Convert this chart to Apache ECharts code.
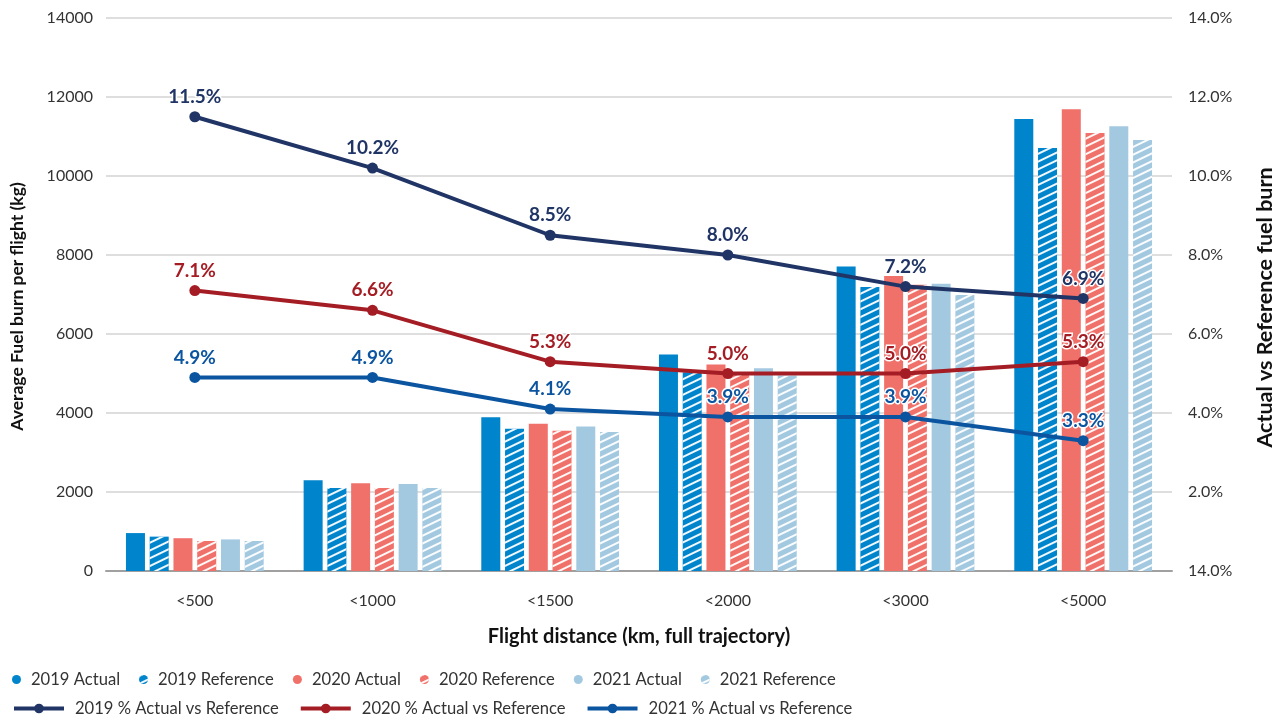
<!DOCTYPE html>
<html><head><meta charset="utf-8">
<script src="https://cdn.jsdelivr.net/npm/echarts@6/dist/echarts.min.js"></script>
<style>html,body{margin:0;padding:0;background:#fff}#c{width:1288px;height:719px}</style>
</head><body><div id="c"></div>
<script>
const categories = ['<500','<1000','<1500','<2000','<3000','<5000'];
const actual2019 = [960, 2300, 3890, 5480, 7710, 11440];
const reference2019 = [870, 2100, 3600, 5030, 7190, 10710];
const actual2020 = [830, 2220, 3730, 5230, 7470, 11690];
const reference2020 = [760, 2100, 3550, 5000, 7250, 11090];
const actual2021 = [800, 2200, 3660, 5130, 7270, 11260];
const reference2021 = [760, 2100, 3520, 4950, 6990, 10910];
const pct2019 = [11.5, 10.2, 8.5, 8.0, 7.2, 6.9];
const pct2020 = [7.1, 6.6, 5.3, 5.0, 5.0, 5.3];
const pct2021 = [4.9, 4.9, 4.1, 3.9, 3.9, 3.3];
const leftTicks = [0, 2000, 4000, 6000, 8000, 10000, 12000, 14000];

const FONT = 'Lato';
const c2019 = '#0084cb', c2020 = '#f0706a', c2021 = '#a3c9e1';
const l2019 = '#203566', l2020 = '#a51d24', l2021 = '#0b55a0';

function hatch() {
  return { symbol: 'rect', symbolSize: 1, color: 'rgba(255,255,255,0.95)',
           dashArrayX: [1, 0], dashArrayY: [2, 5], rotation: -Math.PI / 7 };
}
function bar(name, data, color, ref) {
  const s = { name, type: 'bar', data, barWidth: 19, barGap: '25%', barCategoryGap: '20%',
    itemStyle: { color } };
  if (ref) s.itemStyle.decal = hatch();
  return s;
}
function line(name, data, color) {
  return { name, type: 'line', yAxisIndex: 1, data, symbol: 'circle', symbolSize: 11,
    lineStyle: { color, width: 4 }, itemStyle: { color }, z: 5,
    label: { show: true, position: 'top', distance: 5, color, fontFamily: FONT, fontWeight: 'bold',
      fontSize: 19, textBorderColor: '#fff', textBorderWidth: 3,
      formatter: p => p.value.toFixed(1) + '%' } };
}

const chart = echarts.init(document.getElementById('c'));
chart.setOption({
  animation: false,
  textStyle: { fontFamily: FONT },
  grid: { left: 103, right: 116, top: 18, bottom: 148 },
  legend: [
    { left: 7, top: 666, itemWidth: 9, itemHeight: 9, itemGap: 19, icon: 'circle',
      textStyle: { fontSize: 16.6, color: '#333', fontFamily: FONT, padding: [0, 0, 0, 5] },
      data: ['2019 Actual','2019 Reference','2020 Actual','2020 Reference','2021 Actual','2021 Reference'] },
    { left: 7, top: 695, itemWidth: 50, itemHeight: 12, itemGap: 20,
      lineStyle: { width: 4 },
      textStyle: { fontSize: 16.6, color: '#333', fontFamily: FONT, padding: [0, 0, 0, 6] },
      data: ['2019 % Actual vs Reference','2020 % Actual vs Reference','2021 % Actual vs Reference'] }
  ],
  xAxis: {
    type: 'category', data: categories,
    name: 'Flight distance (km, full trajectory)', nameLocation: 'middle', nameGap: 56,
    nameTextStyle: { fontSize: 20, fontWeight: 'bold', color: '#111', fontFamily: FONT },
    axisLine: { lineStyle: { color: '#a0a0a0', width: 2 } },
    axisTick: { show: false },
    axisLabel: { fontSize: 16, color: '#333', margin: 22 }
  },
  yAxis: [
    { type: 'value', min: 0, max: 14000, interval: 2000,
      name: 'Average Fuel burn per flight (kg)', nameLocation: 'middle', nameGap: 80,
      nameTextStyle: { fontSize: 17.5, fontWeight: 'bold', color: '#111', fontFamily: FONT,
        padding: [0, 0, 0, -24] },
      axisLine: { show: false }, axisTick: { show: false },
      axisLabel: { fontSize: 16, color: '#333', margin: 13,
        formatter: v => leftTicks.includes(v) ? String(v) : '' },
      splitLine: { lineStyle: { color: '#d3d3d3', width: 1.5 } } },
    { type: 'value', min: 0, max: 14, interval: 2,
      name: 'Actual vs Reference fuel burn', nameLocation: 'middle', nameGap: 82,
      nameTextStyle: { fontSize: 21.5, fontWeight: 'bold', color: '#111', fontFamily: FONT,
        padding: [0, 26, 0, 0] },
      axisLine: { show: false }, axisTick: { show: false }, splitLine: { show: false },
      axisLabel: { fontSize: 16, color: '#333', margin: 16,
        formatter: v => (v === 0 ? 14 : v).toFixed(1) + '%' } }
  ],
  series: [
    bar('2019 Actual', actual2019, c2019, false),
    bar('2019 Reference', reference2019, c2019, true),
    bar('2020 Actual', actual2020, c2020, false),
    bar('2020 Reference', reference2020, c2020, true),
    bar('2021 Actual', actual2021, c2021, false),
    bar('2021 Reference', reference2021, c2021, true),
    line('2019 % Actual vs Reference', pct2019, l2019),
    line('2020 % Actual vs Reference', pct2020, l2020),
    line('2021 % Actual vs Reference', pct2021, l2021)
  ]
});
</script></body></html>
